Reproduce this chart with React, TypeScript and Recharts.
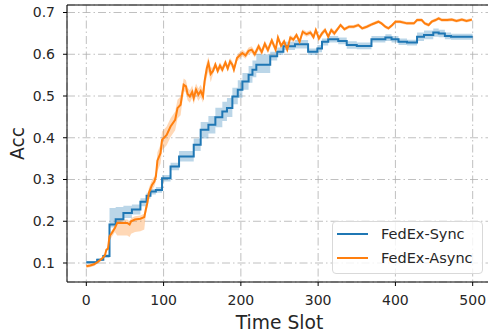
import { ComposedChart, Line, Area, XAxis, YAxis, CartesianGrid, Legend, ReferenceLine } from "recharts";

// FedEx-Sync: step curve, value changes at these slots
const syncSlots = [0, 14, 22, 30, 38, 48, 59, 70, 78, 83, 90, 98, 109, 120, 139, 148, 158, 167, 176, 182, 189, 196, 202, 210, 215, 220, 238, 247, 255, 270, 287, 299, 305, 313, 326, 337, 350, 369, 387, 395, 404, 415, 428, 437, 449, 456, 464, 472, 500];
const syncAcc = [0.102, 0.108, 0.117, 0.192, 0.205, 0.22, 0.228, 0.247, 0.261, 0.271, 0.275, 0.303, 0.331, 0.355, 0.383, 0.419, 0.431, 0.449, 0.463, 0.471, 0.499, 0.515, 0.535, 0.551, 0.563, 0.575, 0.595, 0.606, 0.619, 0.624, 0.606, 0.614, 0.63, 0.636, 0.632, 0.622, 0.62, 0.636, 0.64, 0.636, 0.63, 0.628, 0.642, 0.646, 0.652, 0.65, 0.644, 0.642, 0.642];
const syncLow = [0.099, 0.105, 0.112, 0.185, 0.196, 0.208, 0.216, 0.236, 0.254, 0.264, 0.268, 0.295, 0.322, 0.343, 0.368, 0.398, 0.41, 0.425, 0.44, 0.45, 0.48, 0.495, 0.515, 0.532, 0.545, 0.555, 0.585, 0.598, 0.61, 0.614, 0.598, 0.605, 0.621, 0.628, 0.624, 0.613, 0.612, 0.628, 0.632, 0.628, 0.622, 0.621, 0.632, 0.636, 0.642, 0.641, 0.636, 0.635, 0.635];
const syncHigh = [0.105, 0.111, 0.121, 0.232, 0.234, 0.237, 0.24, 0.255, 0.268, 0.277, 0.282, 0.311, 0.34, 0.368, 0.398, 0.438, 0.452, 0.472, 0.486, 0.495, 0.52, 0.538, 0.555, 0.572, 0.585, 0.6, 0.606, 0.616, 0.63, 0.634, 0.614, 0.622, 0.638, 0.644, 0.64, 0.631, 0.628, 0.644, 0.648, 0.644, 0.638, 0.635, 0.652, 0.657, 0.662, 0.659, 0.652, 0.649, 0.649];

// FedEx-Async
const asyncSlots = [0, 5, 10, 15, 20, 24, 26, 28, 30, 33, 37, 40, 48, 53, 56, 58, 63, 70, 75, 77, 79, 81, 85, 88, 90, 92, 96, 98, 104, 109, 115, 118, 122, 126, 129, 131, 134, 137, 139, 142, 145, 148, 151, 153, 156, 158, 161, 164, 167, 170, 173, 176, 180, 183, 186, 189, 191, 195, 199, 202, 206, 210, 214, 218, 223, 227, 231, 235, 240, 245, 248, 252, 256, 260, 264, 268, 272, 276, 280, 285, 290, 294, 297, 301, 305, 309, 313, 317, 321, 329, 334, 340, 346, 352, 357, 363, 370, 378, 382, 387, 391, 396, 400, 406, 415, 424, 428, 434, 438, 443, 447, 452, 456, 460, 467, 473, 479, 486, 492, 499];
const asyncAcc = [0.092, 0.094, 0.097, 0.103, 0.11, 0.118, 0.132, 0.134, 0.164, 0.172, 0.184, 0.196, 0.196, 0.196, 0.192, 0.2, 0.204, 0.206, 0.21, 0.228, 0.244, 0.268, 0.287, 0.295, 0.307, 0.345, 0.363, 0.395, 0.407, 0.427, 0.443, 0.471, 0.479, 0.527, 0.523, 0.505, 0.499, 0.51, 0.495, 0.515, 0.503, 0.512, 0.499, 0.535, 0.567, 0.579, 0.553, 0.56, 0.575, 0.56, 0.573, 0.563, 0.58, 0.566, 0.583, 0.575, 0.563, 0.591, 0.598, 0.603, 0.597, 0.608, 0.611, 0.6, 0.619, 0.605, 0.625, 0.61, 0.633, 0.611, 0.64, 0.62, 0.631, 0.611, 0.64, 0.635, 0.646, 0.63, 0.654, 0.648, 0.652, 0.641, 0.658, 0.638, 0.65, 0.658, 0.642, 0.658, 0.65, 0.67, 0.66, 0.666, 0.666, 0.67, 0.662, 0.666, 0.672, 0.678, 0.674, 0.666, 0.662, 0.67, 0.678, 0.678, 0.674, 0.674, 0.682, 0.682, 0.674, 0.67, 0.678, 0.682, 0.686, 0.682, 0.682, 0.683, 0.68, 0.683, 0.68, 0.683];
const asyncBelow = [0.004, 0.004, 0.004, 0.004, 0.004, 0.004, 0.004, 0.004, 0.01, 0.01, 0.01, 0.03, 0.03, 0.03, 0.03, 0.03, 0.03, 0.03, 0.03, 0.012, 0.012, 0.012, 0.012, 0.012, 0.012, 0.025, 0.025, 0.025, 0.025, 0.025, 0.025, 0.025, 0.025, 0.015, 0.015, 0.015, 0.015, 0.015, 0.015, 0.015, 0.015, 0.015, 0.015, 0.02, 0.02, 0.02, 0.02, 0.008, 0.008, 0.008, 0.008, 0.008, 0.008, 0.008, 0.008, 0.008, 0.008, 0.008, 0.008, 0.008, 0.008, 0.008, 0.008, 0.008, 0.008, 0.008, 0.008, 0.008, 0.008, 0.008, 0.006, 0.006, 0.006, 0.006, 0.006, 0.006, 0.006, 0.006, 0.006, 0.006, 0.006, 0.006, 0.006, 0.006, 0.006, 0.006, 0.006, 0.006, 0.006, 0.004, 0.004, 0.004, 0.004, 0.004, 0.004, 0.004, 0.004, 0.004, 0.004, 0.004, 0.004, 0.004, 0.004, 0.004, 0.004, 0.004, 0.004, 0.004, 0.004, 0.004, 0.004, 0.004, 0.004, 0.004, 0.004, 0.004, 0.004, 0.004, 0.004, 0.004];
const asyncAbove = [0.004, 0.004, 0.004, 0.004, 0.004, 0.004, 0.004, 0.004, 0.006, 0.006, 0.006, 0.008, 0.008, 0.008, 0.008, 0.008, 0.008, 0.008, 0.008, 0.012, 0.012, 0.012, 0.012, 0.012, 0.012, 0.02, 0.02, 0.02, 0.02, 0.02, 0.02, 0.02, 0.02, 0.015, 0.015, 0.015, 0.015, 0.015, 0.015, 0.015, 0.015, 0.015, 0.015, 0.015, 0.015, 0.015, 0.015, 0.008, 0.008, 0.008, 0.008, 0.008, 0.008, 0.008, 0.008, 0.008, 0.008, 0.008, 0.008, 0.008, 0.008, 0.008, 0.008, 0.008, 0.008, 0.008, 0.008, 0.008, 0.008, 0.008, 0.006, 0.006, 0.006, 0.006, 0.006, 0.006, 0.006, 0.006, 0.006, 0.006, 0.006, 0.006, 0.006, 0.006, 0.006, 0.006, 0.006, 0.006, 0.006, 0.004, 0.004, 0.004, 0.004, 0.004, 0.004, 0.004, 0.004, 0.004, 0.004, 0.004, 0.004, 0.004, 0.004, 0.004, 0.004, 0.004, 0.004, 0.004, 0.004, 0.004, 0.004, 0.004, 0.004, 0.004, 0.004, 0.004, 0.004, 0.004, 0.004, 0.004];

const xTicks = [0, 100, 200, 300, 400, 500];
const yTicks = [0.1, 0.2, 0.3, 0.4, 0.5, 0.6, 0.7];
const xDomain = [-25, 525];
const yDomain = [0.0545, 0.718];
const seriesNames = ["FedEx-Sync", "FedEx-Async"];
const seriesColors = ["#1f77b4", "#ff7f0e"];

const syncData = syncSlots.map((t, i) => ({ t, acc: syncAcc[i], band: [syncLow[i], syncHigh[i]] }));
const asyncData = asyncSlots.map((t, i) => ({
  t,
  acc: asyncAcc[i],
  band: [asyncAcc[i] - asyncBelow[i], asyncAcc[i] + asyncAbove[i]],
}));

const textColor = "#262626";

const renderLegend = () => (
  <div
    style={{
      position: "relative",
      width: 151,
      height: 53,
      boxSizing: "border-box",
      border: "1px solid #d9d9d9",
      borderRadius: 4,
      background: "rgba(255,255,255,0.8)",
    }}
  >
    {seriesNames.map((name, i) => (
      <div
        key={name}
        style={{ position: "absolute", left: 0, top: 3 + i * 24, height: 18, display: "flex", alignItems: "center" }}
      >
        <span style={{ display: "inline-block", marginLeft: 4, width: 31, height: 2, background: seriesColors[i] }} />
        <span style={{ marginLeft: 13, fontSize: 14.5, color: textColor, lineHeight: "18px", whiteSpace: "nowrap" }}>
          {name}
        </span>
      </div>
    ))}
  </div>
);

export default function App() {
  return (
    <div
      style={{
        position: "absolute",
        left: 0,
        top: 0,
        width: 488,
        height: 332,
        overflow: "hidden",
        background: "#fff",
        fontFamily: "'DejaVu Sans', sans-serif",
      }}
    >
      <ComposedChart width={500} height={332} margin={{ top: 5, right: 8, bottom: 0, left: 0 }}>
        <CartesianGrid stroke="#b0b0b0" strokeDasharray="8 3 1.5 3" strokeWidth={0.8} />
        <XAxis
          type="number"
          dataKey="t"
          domain={xDomain}
          ticks={xTicks}
          allowDataOverflow
          height={50}
          stroke="#000"
          tick={{ fill: textColor, fontSize: 14 }}
          tickSize={4}
          tickMargin={9}
          label={{ value: "Time Slot", position: "insideBottom", offset: 3, fill: textColor, fontSize: 18.7 }}
        />
        <YAxis
          type="number"
          domain={yDomain}
          ticks={yTicks}
          allowDataOverflow
          width={67}
          stroke="#000"
          tick={{ fill: textColor, fontSize: 14 }}
          tickSize={4}
          tickMargin={8}
          label={{
            value: "Acc",
            angle: -90,
            position: "insideLeft",
            offset: 17,
            fill: textColor,
            fontSize: 18.7,
            style: { textAnchor: "middle" },
          }}
        />
        <ReferenceLine y={yDomain[1]} stroke="#000" />
        <Area
          data={syncData}
          dataKey="band"
          type="stepAfter"
          fill={seriesColors[0]}
          fillOpacity={0.3}
          stroke="none"
          legendType="none"
          isAnimationActive={false}
        />
        <Area
          data={asyncData}
          dataKey="band"
          type="linear"
          fill={seriesColors[1]}
          fillOpacity={0.3}
          stroke="none"
          legendType="none"
          isAnimationActive={false}
        />
        <Line
          data={syncData}
          dataKey="acc"
          name={seriesNames[0]}
          type="stepAfter"
          stroke={seriesColors[0]}
          strokeWidth={2}
          dot={false}
          isAnimationActive={false}
        />
        <Line
          data={asyncData}
          dataKey="acc"
          name={seriesNames[1]}
          type="linear"
          stroke={seriesColors[1]}
          strokeWidth={2}
          dot={false}
          isAnimationActive={false}
        />
        <Legend
          layout="vertical"
          align="center"
          verticalAlign="middle"
          wrapperStyle={{ left: 332, top: 221, width: 151, height: 53 }}
          content={renderLegend}
        />
      </ComposedChart>
    </div>
  );
}
